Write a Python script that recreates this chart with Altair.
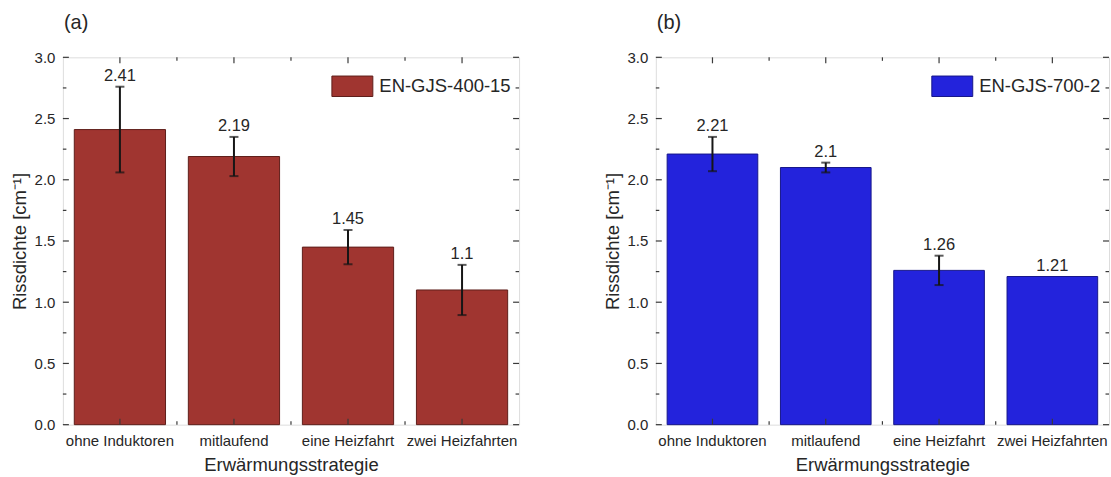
import altair as alt
import pandas as pd

categories = ["ohne Induktoren", "mitlaufend", "eine Heizfahrt", "zwei Heizfahrten"]

values_a = [2.41, 2.19, 1.45, 1.1]
errors_a = [0.35, 0.16, 0.14, 0.205]

values_b = [2.21, 2.1, 1.26, 1.21]
errors_b = [0.14, 0.04, 0.12, 0.0]

y_major = [0.0, 0.5, 1.0, 1.5, 2.0, 2.5, 3.0]
y_minor = [0.25, 0.75, 1.25, 1.75, 2.25, 2.75]

FONT = "Liberation Sans"
TEXT = "#262626"
FRAME = "#3a3a3a"
H = 368


def panel(tag, material, values, errors, fill, stroke, width):
    df = pd.DataFrame({
        "cat": categories,
        "value": values,
        "lo": [v - e for v, e in zip(values, errors)],
        "hi": [v + e for v, e in zip(values, errors)],
        "err": errors,
        "label": [str(v) for v in values],
        "material": material,
    })
    err_df = df[df["err"] > 0]

    xscale = alt.Scale(domain=categories, paddingInner=0.2, paddingOuter=0.1)
    xaxis = alt.Axis(title="Erwärmungsstrategie", labelAngle=0, ticks=False, domain=False,
                     labelFontSize=15, titleFontSize=18.5, labelPadding=9, titlePadding=7,
                     labelColor=TEXT, titleColor=TEXT, labelFont=FONT, titleFont=FONT,
                     titleFontWeight="normal", labelLimit=300)
    yaxis = alt.Axis(title="Rissdichte [cm⁻¹]", values=y_major, format=".1f", ticks=False,
                     domain=False, grid=False, labelFontSize=15, titleFontSize=18.5,
                     labelPadding=8, titlePadding=5, labelColor=TEXT, titleColor=TEXT,
                     labelFont=FONT, titleFont=FONT, titleFontWeight="normal")
    yscale = alt.Scale(domain=[0, 3], nice=False, zero=True)

    def X(field="cat", **kw):
        return alt.X(f"{field}:N", sort=categories, scale=xscale, axis=xaxis, **kw)

    def Y(field):
        return alt.Y(f"{field}:Q", scale=yscale, axis=yaxis)

    bars = alt.Chart(df).mark_bar(stroke=stroke, strokeWidth=1).encode(
        x=X(),
        y=Y("value"),
        color=alt.Color("material:N",
                        scale=alt.Scale(domain=[material], range=[fill]),
                        legend=alt.Legend(title=None, orient="top-right", offset=8,
                                          symbolType="M-1,-0.5H1V0.5H-1Z", symbolSize=1681,
                                          symbolStrokeColor=stroke, symbolStrokeWidth=1,
                                          symbolOpacity=1,
                                          labelFontSize=18.5, labelFont=FONT, labelColor=TEXT,
                                          labelOffset=6, padding=0)),
    )
    rule = alt.Chart(err_df).mark_rule(color="#161616", strokeWidth=2).encode(
        x=X(), y=Y("lo"), y2="hi")
    cap_lo = alt.Chart(err_df).mark_tick(color="#161616", thickness=2, size=9).encode(
        x=X(), y=Y("lo"))
    cap_hi = alt.Chart(err_df).mark_tick(color="#161616", thickness=2, size=9).encode(
        x=X(), y=Y("hi"))
    labels = alt.Chart(df).mark_text(baseline="bottom", dy=-3, fontSize=16.5, font=FONT,
                                     color=TEXT).encode(x=X(), y=Y("hi"), text="label:N")

    major_df = pd.DataFrame({"v": y_major})
    minor_df = pd.DataFrame({"v": y_minor})
    tick_style = dict(color=FRAME, strokeWidth=1.2)
    yl_major = alt.Chart(major_df).mark_rule(**tick_style).encode(
        y=Y("v"), x=alt.value(0), x2=alt.value(6))
    yr_major = alt.Chart(major_df).mark_rule(**tick_style).encode(
        y=Y("v"), x=alt.value(width - 6), x2=alt.value(width))
    yl_minor = alt.Chart(minor_df).mark_rule(**tick_style).encode(
        y=Y("v"), x=alt.value(0), x2=alt.value(3.5))
    yr_minor = alt.Chart(minor_df).mark_rule(**tick_style).encode(
        y=Y("v"), x=alt.value(width - 3.5), x2=alt.value(width))

    cat_df = pd.DataFrame({"cat": categories})
    bound_df = pd.DataFrame({"cat": categories[1:]})
    xb_major = alt.Chart(cat_df).mark_rule(**tick_style).encode(
        x=X(), y=alt.value(H - 6), y2=alt.value(H))
    xt_major = alt.Chart(cat_df).mark_rule(**tick_style).encode(
        x=X(), y=alt.value(0), y2=alt.value(6))
    step = width / 4.0
    xb_minor = alt.Chart(bound_df).mark_rule(xOffset=-0.1 * step, **tick_style).encode(
        x=X(bandPosition=0), y=alt.value(H - 3.5), y2=alt.value(H))
    xt_minor = alt.Chart(bound_df).mark_rule(xOffset=-0.1 * step, **tick_style).encode(
        x=X(bandPosition=0), y=alt.value(0), y2=alt.value(3.5))

    return alt.layer(bars, rule, cap_lo, cap_hi, labels,
                     yl_major, yr_major, yl_minor, yr_minor,
                     xb_major, xt_major, xb_minor, xt_minor).properties(
        width=width, height=H,
        title=alt.TitleParams(tag, anchor="start", frame="group", fontSize=20,
                              font=FONT, fontWeight="normal", color=TEXT,
                              baseline="bottom", offset=0, dx=1, dy=3),
    )


panel_a = panel("(a)", "EN-GJS-400-15", values_a, errors_a, "#A03530", "#5E1E1A", 457)
panel_b = panel("(b)", "EN-GJS-700-2", values_b, errors_b, "#2323DC", "#16168A", 454)

chart = alt.hconcat(panel_a, panel_b, spacing=81).resolve_scale(
    color="independent"
).properties(
    padding={"left": 9, "top": 12, "right": 0, "bottom": 0}
).configure_view(
    stroke=FRAME, strokeWidth=1.2
).configure(
    background="white", font=FONT
)

chart.save("out.html", embed_options={"renderer": "svg", "actions": False})
